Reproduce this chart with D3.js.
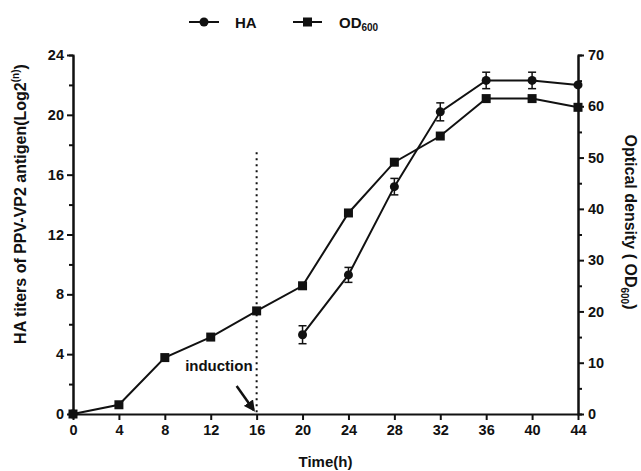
<!DOCTYPE html>
<html>
<head>
<meta charset="utf-8">
<script src="https://cdn.jsdelivr.net/npm/d3@7"></script>
<style>
  body { margin: 0; background: #fff; }
  text { font-family: "Liberation Sans", Arial, sans-serif; font-weight: bold; fill: #111; }
</style>
</head>
<body>
<div class="chart"></div>
<script>
// time points (h)
const hours = [0, 4, 8, 12, 16, 20, 24, 28, 32, 36, 40, 44];
// HA titers (left axis), null = not measured
const haValues = [0, null, null, null, null, 5.3, 9.3, 15.2, 20.2, 22.3, 22.3, 22.0];
const haErrors = [0, null, null, null, null, 0.6, 0.5, 0.55, 0.6, 0.55, 0.55, 0.1];
// OD600 (right axis)
const odValues = [0, 1.8, 11, 15, 20.1, 25, 39.2, 49.1, 54.2, 61.5, 61.5, 59.8];
const xTicks = [0, 4, 8, 12, 16, 20, 24, 28, 32, 36, 40, 44];
const leftTicks = [0, 4, 8, 12, 16, 20, 24];
const rightTicks = [0, 10, 20, 30, 40, 50, 60, 70];
const inductionTime = 16;

const width = 641, height = 471;
const margin = { top: 55, right: 63, bottom: 57, left: 73 };

const svg = d3.select(".chart").append("svg")
  .attr("width", width)
  .attr("height", height);

const x = d3.scaleLinear().domain([0, 44]).range([margin.left, width - margin.right]);
const yL = d3.scaleLinear().domain([0, 24]).range([height - margin.bottom, margin.top]);
const yR = d3.scaleLinear().domain([0, 70]).range([height - margin.bottom, margin.top]);

const axisStyle = g => {
  g.select(".domain").attr("stroke", "#111").attr("stroke-width", 2);
  g.selectAll(".tick line").attr("stroke", "#111").attr("stroke-width", 2);
  g.selectAll("text").style("font-size", "14.5px").style("font-weight", "bold");
};

// minor ticks
svg.append("g")
  .attr("transform", `translate(${margin.left},0)`)
  .call(d3.axisLeft(yL).tickValues(d3.range(2, 24, 4)).tickSize(4).tickFormat(""))
  .call(axisStyle);
svg.append("g")
  .attr("transform", `translate(${width - margin.right},0)`)
  .call(d3.axisRight(yR).tickValues(d3.range(5, 70, 10)).tickSize(4).tickFormat(""))
  .call(axisStyle);

svg.append("g")
  .attr("transform", `translate(0,${height - margin.bottom})`)
  .call(d3.axisBottom(x).tickValues(xTicks).tickSize(6).tickSizeOuter(0).tickPadding(5))
  .call(axisStyle);
svg.append("g")
  .attr("transform", `translate(${margin.left},0)`)
  .call(d3.axisLeft(yL).tickValues(leftTicks).tickSize(6).tickSizeOuter(0).tickPadding(3))
  .call(axisStyle);
svg.append("g")
  .attr("transform", `translate(${width - margin.right},0)`)
  .call(d3.axisRight(yR).tickValues(rightTicks).tickSize(6).tickSizeOuter(0).tickPadding(4))
  .call(axisStyle);

// induction marker
svg.append("line")
  .attr("x1", x(inductionTime)).attr("x2", x(inductionTime))
  .attr("y1", yL(17.5)).attr("y2", yL(0))
  .attr("stroke", "#111").attr("stroke-width", 2)
  .attr("stroke-dasharray", "2,4");

svg.append("defs").append("marker")
  .attr("id", "arrow")
  .attr("viewBox", "0 0 10 10")
  .attr("refX", 8).attr("refY", 5)
  .attr("markerWidth", 4.5).attr("markerHeight", 4.5)
  .attr("orient", "auto")
  .append("path").attr("d", "M0,0L10,5L0,10z").attr("fill", "#111");

svg.append("line")
  .attr("x1", x(inductionTime) - 20).attr("y1", yL(0) - 28)
  .attr("x2", x(inductionTime) - 3).attr("y2", yL(0) - 4)
  .attr("stroke", "#111").attr("stroke-width", 2.5)
  .attr("marker-end", "url(#arrow)");

svg.append("text")
  .attr("x", x(inductionTime) - 4).attr("y", yL(0) - 43)
  .attr("text-anchor", "end")
  .style("font-size", "15px")
  .text("induction");

// OD600 line + squares
const odData = hours.map((h, i) => ({ h, v: odValues[i] }));
svg.append("path")
  .datum(odData)
  .attr("fill", "none").attr("stroke", "#111").attr("stroke-width", 2)
  .attr("d", d3.line().x(d => x(d.h)).y(d => yR(d.v)));
svg.selectAll(".sq").data(odData).enter().append("rect")
  .attr("class", "sq")
  .attr("x", d => x(d.h) - 4.5).attr("y", d => yR(d.v) - 4.5)
  .attr("width", 9).attr("height", 9).attr("fill", "#111");

// HA line + circles + error bars
const haData = hours.map((h, i) => ({ h, v: haValues[i], e: haErrors[i] })).filter(d => d.v !== null);
svg.append("path")
  .datum(haData.filter(d => d.h >= 20))
  .attr("fill", "none").attr("stroke", "#111").attr("stroke-width", 2)
  .attr("d", d3.line().x(d => x(d.h)).y(d => yL(d.v)));

const eb = svg.selectAll(".eb").data(haData.filter(d => d.e > 0.2)).enter().append("g")
  .attr("stroke", "#111").attr("stroke-width", 1.5);
eb.append("line")
  .attr("x1", d => x(d.h)).attr("x2", d => x(d.h))
  .attr("y1", d => yL(d.v - d.e)).attr("y2", d => yL(d.v + d.e));
eb.append("line")
  .attr("x1", d => x(d.h) - 4).attr("x2", d => x(d.h) + 4)
  .attr("y1", d => yL(d.v - d.e)).attr("y2", d => yL(d.v - d.e));
eb.append("line")
  .attr("x1", d => x(d.h) - 4).attr("x2", d => x(d.h) + 4)
  .attr("y1", d => yL(d.v + d.e)).attr("y2", d => yL(d.v + d.e));

svg.selectAll(".ci").data(haData).enter().append("circle")
  .attr("class", "ci")
  .attr("cx", d => x(d.h)).attr("cy", d => yL(d.v))
  .attr("r", 4.5).attr("fill", "#111");

// axis titles
svg.append("text")
  .attr("x", (margin.left + width - margin.right) / 2).attr("y", 467)
  .attr("text-anchor", "middle")
  .style("font-size", "15px")
  .text("Time(h)");

const lt = svg.append("text")
  .attr("transform", "translate(26,204) rotate(-90)")
  .attr("text-anchor", "middle")
  .style("font-size", "16px");
lt.append("tspan").text("HA titers of PPV-VP2 antigen(Log2");
lt.append("tspan").attr("dy", -7).style("font-size", "10px").text("(n)");
lt.append("tspan").attr("dy", 7).text(")");

const rt = svg.append("text")
  .attr("transform", "translate(625,222) rotate(90)")
  .attr("text-anchor", "middle")
  .style("font-size", "16px");
rt.append("tspan").text("Optical density ( OD");
rt.append("tspan").attr("dy", 4).style("font-size", "10px").text("600");
rt.append("tspan").attr("dy", -4).text(")");

// legend
const legend = svg.append("g").attr("transform", "translate(0,22)");
legend.append("line").attr("x1", 189).attr("x2", 219).attr("stroke", "#111").attr("stroke-width", 2);
legend.append("circle").attr("cx", 204).attr("r", 4.5).attr("fill", "#111");
legend.append("text").attr("x", 235).attr("y", 5.5).style("font-size", "15px").text("HA");
legend.append("line").attr("x1", 293).attr("x2", 322).attr("stroke", "#111").attr("stroke-width", 2);
legend.append("rect").attr("x", 303).attr("y", -4.5).attr("width", 9).attr("height", 9).attr("fill", "#111");
const lo = legend.append("text").attr("x", 339).attr("y", 5.5).style("font-size", "15px");
lo.append("tspan").text("OD");
lo.append("tspan").attr("dy", 3).style("font-size", "10px").text("600");
</script>
</body>
</html>
